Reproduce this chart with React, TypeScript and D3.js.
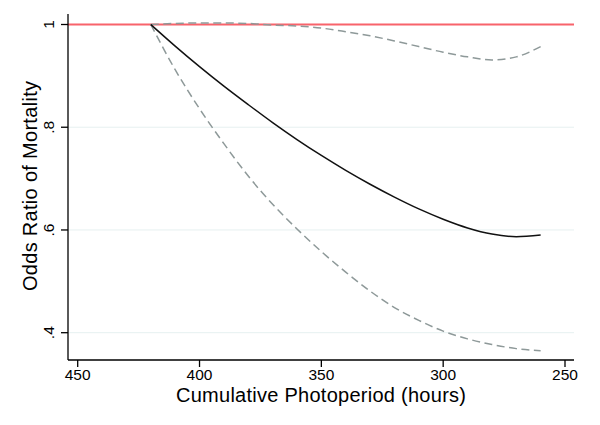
import React, { useEffect, useRef } from 'react';
import * as d3 from 'd3';

// cumulative photoperiod (hours) sampled along the curves
const hours = [420, 410, 400, 390, 380, 370, 360, 350, 340, 330, 320, 310, 300, 290, 280, 270, 260];
const oddsRatio = [1.0, 0.958, 0.918, 0.880, 0.844, 0.809, 0.776, 0.745, 0.716, 0.689, 0.664, 0.641, 0.621, 0.604, 0.592, 0.587, 0.590];
const upperCI = [1.0, 1.002, 1.003, 1.003, 1.002, 0.999, 0.997, 0.993, 0.986, 0.978, 0.968, 0.957, 0.946, 0.937, 0.931, 0.937, 0.957];
const lowerCI = [1.0, 0.912, 0.836, 0.768, 0.705, 0.650, 0.602, 0.558, 0.518, 0.481, 0.449, 0.424, 0.403, 0.388, 0.377, 0.369, 0.365];

const xTicks = [450, 400, 350, 300, 250];
const yTicks = [0.4, 0.6, 0.8, 1];
const yTickLabels = ['.4', '.6', '.8', '1'];

const W = 600;
const H = 425;

const App = () => {
  const svgRef = useRef<SVGSVGElement>(null);

  useEffect(() => {
    const svg = d3.select(svgRef.current);
    svg.selectAll('*').remove();

    const left = 68, right = 574, top = 14, bottom = 360;
    const x = d3.scaleLinear().domain([450, 250]).range([77.7, 565]);
    const y = d3.scaleLinear().domain([0.4, 1]).range([332.7, 24.5]);
    const font = '"Liberation Sans", Arial, Helvetica, sans-serif';

    svg.append('rect').attr('width', W).attr('height', H).attr('fill', '#fff');

    // gridlines
    svg.append('g')
      .selectAll('line')
      .data(yTicks.filter(t => t < 1))
      .enter()
      .append('line')
      .attr('x1', left)
      .attr('x2', right)
      .attr('y1', d => y(d))
      .attr('y2', d => y(d))
      .attr('stroke', '#e6f0f0')
      .attr('stroke-width', 1);

    // reference line at 1
    svg.append('line')
      .attr('x1', left)
      .attr('x2', right)
      .attr('y1', y(1))
      .attr('y2', y(1))
      .attr('stroke', '#f8636b')
      .attr('stroke-width', 2);

    const line = (vals: number[]) => d3.line<number>()
      .x((d, i) => x(hours[i]))
      .y(d => y(d))
      .curve(d3.curveMonotoneX)(vals);

    [upperCI, lowerCI].forEach(vals => {
      svg.append('path')
        .attr('d', line(vals))
        .attr('fill', 'none')
        .attr('stroke', '#8e9999')
        .attr('stroke-width', 1.5)
        .attr('stroke-dasharray', '8,4.5');
    });

    svg.append('path')
      .attr('d', line(oddsRatio))
      .attr('fill', 'none')
      .attr('stroke', '#111')
      .attr('stroke-width', 1.5);

    // axes
    svg.append('line')
      .attr('x1', left).attr('x2', left)
      .attr('y1', top).attr('y2', bottom)
      .attr('stroke', '#000').attr('stroke-width', 1.3);
    svg.append('line')
      .attr('x1', left).attr('x2', right)
      .attr('y1', bottom).attr('y2', bottom)
      .attr('stroke', '#000').attr('stroke-width', 1.3);

    const xt = svg.append('g').selectAll('g').data(xTicks).enter().append('g');
    xt.append('line')
      .attr('x1', d => x(d)).attr('x2', d => x(d))
      .attr('y1', bottom).attr('y2', bottom + 7)
      .attr('stroke', '#000').attr('stroke-width', 1.3);
    xt.append('text')
      .attr('x', d => x(d))
      .attr('y', 379.5)
      .attr('text-anchor', 'middle')
      .style('font-family', font)
      .style('font-size', '15.5px')
      .style('fill', '#000')
      .text(d => String(d));

    const yt = svg.append('g').selectAll('g').data(yTicks).enter().append('g');
    yt.append('line')
      .attr('x1', left - 7).attr('x2', left)
      .attr('y1', d => y(d)).attr('y2', d => y(d))
      .attr('stroke', '#000').attr('stroke-width', 1.3);
    yt.append('text')
      .attr('transform', d => `translate(54, ${y(d)}) rotate(-90)`)
      .attr('text-anchor', 'middle')
      .style('font-family', font)
      .style('font-size', '15.5px')
      .style('fill', '#000')
      .text((d, i) => yTickLabels[i]);

    svg.append('text')
      .attr('x', (left + right) / 2)
      .attr('y', 402)
      .attr('text-anchor', 'middle')
      .attr('textLength', 290)
      .attr('lengthAdjust', 'spacing')
      .style('font-family', font)
      .style('font-size', '20px')
      .style('fill', '#000')
      .text('Cumulative Photoperiod (hours)');

    svg.append('text')
      .attr('transform', `translate(37, 186) rotate(-90)`)
      .attr('text-anchor', 'middle')
      .attr('textLength', 210)
      .attr('lengthAdjust', 'spacing')
      .style('font-family', font)
      .style('font-size', '20px')
      .style('fill', '#000')
      .text('Odds Ratio of Mortality');
  }, []);

  return (
    <svg ref={svgRef} width={W} height={H} style={{ position: 'absolute', left: 0, top: 0 }} />
  );
};

export default App;
